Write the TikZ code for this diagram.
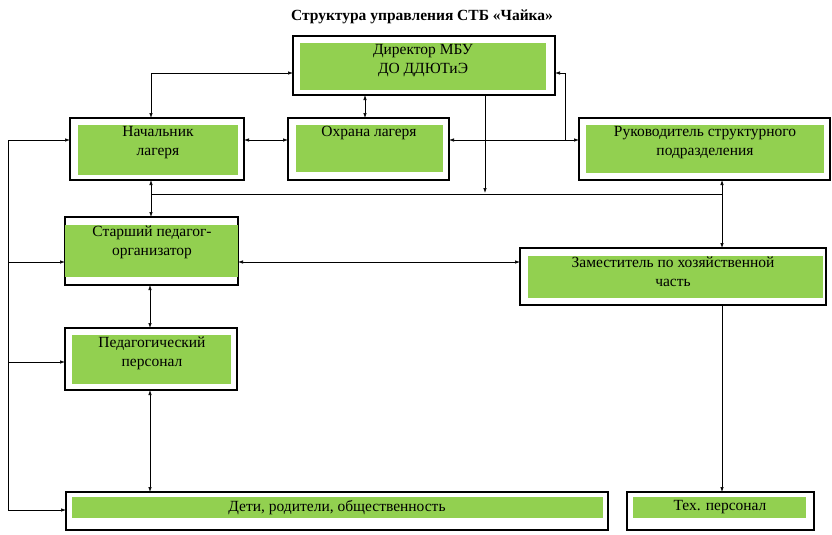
\documentclass[tikz,border=0pt]{standalone}
\usepackage{fontspec}
\setmainfont{Liberation Serif}
\usetikzlibrary{arrows.meta}
\definecolor{gr}{HTML}{92D050}
\begin{document}
\begin{tikzpicture}[x=1pt,y=-1pt,
  box/.style={draw=black,line width=1.1pt},
  lbl/.style={font=\fontsize{15.5}{19}\selectfont,align=center,anchor=north,inner sep=0pt},
  con/.style={line width=0.7pt,{Latex[length=5pt,width=3.5pt]}-{Latex[length=5pt,width=3.5pt]}},
  one/.style={line width=0.7pt,-{Latex[length=5pt,width=3.5pt]}},
  ln/.style={line width=0.7pt}]
\useasboundingbox (0,0) rectangle (832,535);
\node[font=\bfseries\fontsize{15.5}{19}\selectfont] (title) at (422,17) {Структура управления СТБ «Чайка»};
% boxes
\newcommand{\bx}[9]{%
 \draw[box] (#2,#3) rectangle (#4,#5);
 \fill[gr] (#6,#7) rectangle (#8,#9);
 \coordinate (#1-nw) at (#2,#3); \coordinate (#1-se) at (#4,#5);}
\bx{dir}{293}{36}{555}{95}{300}{43}{546}{90}
\bx{nach}{70}{118}{244}{180}{78}{125}{238}{175}
\bx{okh}{288}{118}{449}{180}{296}{125}{443}{172}
\bx{ruk}{579}{118}{830}{180}{586}{125}{824}{173}
\bx{star}{65}{217}{238}{285}{65}{225}{238}{277}
\bx{zam}{520}{248}{826}{305}{528}{256}{823}{298}
\bx{ped}{65}{328}{237}{390}{72}{335}{231}{384}
\bx{det}{66}{492}{608}{530}{72}{497}{603}{518}
\bx{tex}{627}{492}{814}{530}{633}{497}{806}{518}
\node[lbl] (tdir) at (423,44) {Директор МБУ\\ДО ДДЮТиЭ};
\node[lbl] (tnach) at (158,126) {Начальник\\лагеря};
\node[lbl] (tokh) at (369,126) {Охрана лагеря};
\node[lbl] (truk) at (705,126) {Руководитель структурного\\подразделения};
\node[lbl] (tstar) at (152,226) {Старший педагог-\\организатор};
\node[lbl] (tzam) at (673,257) {Заместитель по хозяйственной\\часть};
\node[lbl] (tped) at (152,337) {Педагогический\\персонал};
\node[lbl] (tdet) at (337,500) {Дети, родители, общественность};
\node[lbl] (ttex) at (720,500) {Тех. персонал};
% connectors
\coordinate (a1) at (151,73);
\draw[con] (151,118) -- (a1) -- (293,73);
\draw[con] (365,95) -- (365,118);
\draw[con] (244,140) -- (288,140);
\draw[con] (449,140) -- (579,140);
\draw[one] (565,140) -- (565,73) -- (555,73);
\draw[one] (485,95) -- (485,193);
\draw[ln] (151,194) -- (722,194);
\draw[con] (151,180) -- (151,217);
\draw[con] (722,180) -- (722,248);
\draw[con] (238,262) -- (520,262);
\draw[con] (150,285) -- (150,328);
\draw[con] (150,390) -- (150,492);
\draw[one] (722,305) -- (722,492);
\draw[ln] (8,140) -- (8,510);
\draw[one] (8,140) -- (70,140);
\draw[one] (8,262) -- (65,262);
\draw[one] (8,362) -- (65,362);
\draw[one] (8,510) -- (66,510);
\end{tikzpicture}
\end{document}
